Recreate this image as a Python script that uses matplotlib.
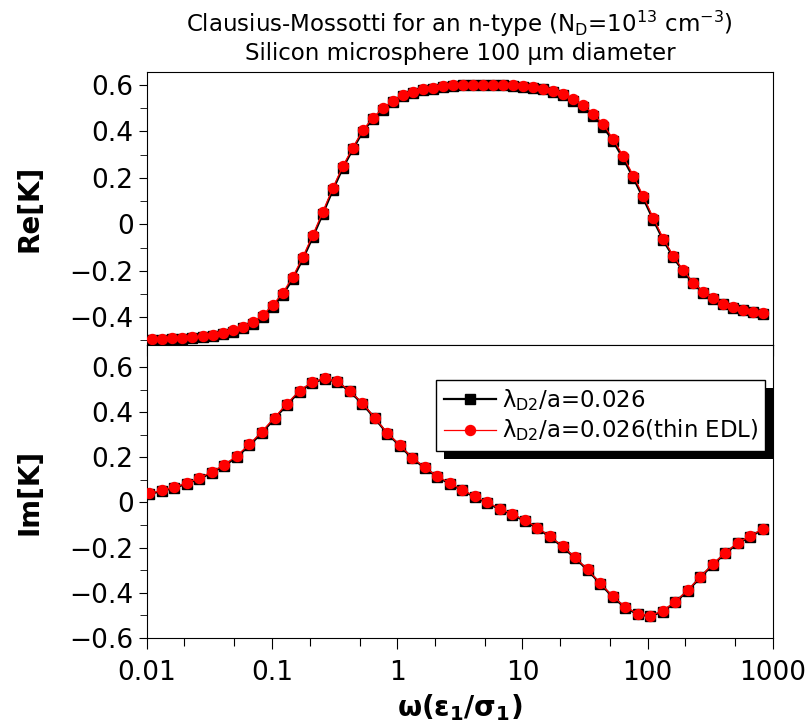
import matplotlib
matplotlib.use("Agg")
import matplotlib.pyplot as plt
from matplotlib.patches import Rectangle
from matplotlib.ticker import FixedLocator, NullFormatter, FuncFormatter

# frequency grid of the Re[K] curves
omega_re = [0.01109, 0.01334, 0.01603, 0.01928, 0.02317, 0.02786, 0.03350, 0.04027, 0.04842, 0.05821,
            0.06998, 0.08414, 0.1012, 0.1216, 0.1462, 0.1758, 0.2113, 0.2541, 0.3055, 0.3673,
            0.4416, 0.5309, 0.6383, 0.7674, 0.9226, 1.109, 1.334, 1.603, 1.928, 2.317,
            2.786, 3.350, 4.027, 4.842, 5.821, 6.998, 8.414, 10.12, 12.16, 14.62,
            17.58, 21.13, 25.41, 30.55, 36.73, 44.16, 53.09, 63.83, 76.74, 92.26,
            110.9, 133.4, 160.3, 192.8, 231.7, 278.6, 335.0, 402.7, 484.2, 582.1,
            699.8, 841.4]

re_full = [-0.498, -0.498, -0.495, -0.493, -0.491, -0.486, -0.480, -0.473, -0.462, -0.447,
           -0.428, -0.398, -0.356, -0.305, -0.236, -0.151, -0.056, 0.044, 0.147, 0.242,
           0.323, 0.399, 0.454, 0.494, 0.529, 0.552, 0.567, 0.578, 0.585, 0.592,
           0.596, 0.599, 0.599, 0.599, 0.599, 0.598, 0.596, 0.592, 0.587, 0.581,
           0.569, 0.556, 0.533, 0.506, 0.468, 0.421, 0.357, 0.283, 0.201, 0.112,
           0.019, -0.069, -0.142, -0.204, -0.255, -0.294, -0.322, -0.345, -0.359, -0.371,
           -0.379, -0.385]

re_thin = [-0.494, -0.494, -0.491, -0.489, -0.487, -0.482, -0.476, -0.468, -0.457, -0.442,
           -0.422, -0.391, -0.348, -0.296, -0.227, -0.142, -0.047, 0.053, 0.156, 0.250,
           0.330, 0.405, 0.459, 0.499, 0.533, 0.556, 0.571, 0.582, 0.588, 0.595,
           0.599, 0.602, 0.602, 0.602, 0.602, 0.601, 0.599, 0.595, 0.591, 0.585,
           0.573, 0.561, 0.539, 0.513, 0.476, 0.430, 0.367, 0.293, 0.210, 0.121,
           0.027, -0.062, -0.136, -0.199, -0.251, -0.291, -0.319, -0.342, -0.356, -0.368,
           -0.376, -0.382]

# frequency grid of the Im[K] curves
omega_im = [0.01047, 0.01318, 0.01660, 0.02089, 0.02630, 0.03311, 0.04169, 0.05248, 0.06607, 0.08318,
            0.1047, 0.1318, 0.1660, 0.2089, 0.2630, 0.3311, 0.4169, 0.5248, 0.6607, 0.8318,
            1.047, 1.318, 1.660, 2.089, 2.630, 3.311, 4.169, 5.248, 6.607, 8.318,
            10.47, 13.18, 16.60, 20.89, 26.30, 33.11, 41.69, 52.48, 66.07, 83.18,
            104.7, 131.8, 166.0, 208.9, 263.0, 331.1, 416.9, 524.8, 660.7, 831.8]

im_full = [0.038, 0.050, 0.065, 0.083, 0.105, 0.132, 0.163, 0.202, 0.253, 0.309,
           0.371, 0.433, 0.491, 0.530, 0.547, 0.534, 0.492, 0.438, 0.373, 0.305,
           0.252, 0.195, 0.153, 0.113, 0.083, 0.053, 0.024, -0.003, -0.030, -0.054,
           -0.082, -0.114, -0.153, -0.196, -0.246, -0.299, -0.359, -0.418, -0.465, -0.495,
           -0.504, -0.483, -0.442, -0.391, -0.332, -0.276, -0.225, -0.181, -0.151, -0.119]

im_thin = [0.041, 0.053, 0.068, 0.086, 0.108, 0.136, 0.167, 0.207, 0.258, 0.314,
           0.376, 0.438, 0.495, 0.533, 0.549, 0.536, 0.495, 0.441, 0.376, 0.308,
           0.255, 0.198, 0.156, 0.116, 0.086, 0.056, 0.027, 0.000, -0.027, -0.051,
           -0.079, -0.111, -0.150, -0.193, -0.243, -0.296, -0.356, -0.415, -0.462, -0.492,
           -0.501, -0.480, -0.439, -0.388, -0.329, -0.273, -0.222, -0.178, -0.148, -0.116]

label_full = r"λ$_{\mathrm{D2}}$/a=0.026"
label_thin = r"λ$_{\mathrm{D2}}$/a=0.026(thin EDL)"
x_ticks = [0.01, 0.1, 1, 10, 100, 1000]


def fmt_y(v, pos):
  if abs(v) < 1e-9:
    return "0"
  return "{:.1f}".format(v).replace("-", "\u2212")


def minors(subs):
  out = []
  for d in [0.01, 0.1, 1, 10, 100]:
    for s in subs:
      out.append(d * s)
  return out


fig = plt.figure(figsize=(8.11, 7.26), dpi=100)
gs = fig.add_gridspec(2, 1, height_ratios=[273, 293], hspace=0,
                      left=0.181, right=0.953, top=0.9008, bottom=0.1212)
ax1 = fig.add_subplot(gs[0])
ax2 = fig.add_subplot(gs[1], sharex=ax1)

ax1.plot(omega_re, re_full, color='black', lw=1.6, marker='s', ms=6.5, zorder=3)
ax1.plot(omega_re, re_thin, color='red', lw=0.9, marker='o', ms=7.2, zorder=4)
ax2.plot(omega_im, im_full, color='black', lw=1.6, marker='s', ms=6.5, zorder=3, label=label_full)
ax2.plot(omega_im, im_thin, color='red', lw=0.9, marker='o', ms=7.2, zorder=4, label=label_thin)

ax1.set_xscale('log')
ax1.set_xlim(0.01, 1000)
ax1.set_ylim(-0.52, 0.656)
ax2.set_ylim(-0.6, 0.697)

# x ticks
ax2.xaxis.set_major_locator(FixedLocator(x_ticks))
ax2.xaxis.set_major_formatter(FuncFormatter(lambda v, p: "{:g}".format(v)))
ax1.xaxis.set_minor_locator(FixedLocator(minors([2, 4, 6, 8])))
ax1.xaxis.set_minor_formatter(NullFormatter())
ax1.tick_params(axis='x', which='both', labelbottom=False)
ax1.tick_params(axis='x', which='major', direction='out', length=8)
ax1.tick_params(axis='x', which='minor', direction='out', length=5)

# bottom panel gets its own minor positions (2 and 5)
ax2b = ax2.secondary_xaxis('bottom')
ax2b.xaxis.set_major_locator(FixedLocator(minors([2, 5])))
ax2b.xaxis.set_major_formatter(NullFormatter())
ax2b.xaxis.set_minor_locator(FixedLocator([]))
ax2b.tick_params(axis='x', which='major', direction='out', length=6)
ax2b.spines['bottom'].set_visible(False)
ax2.tick_params(axis='x', which='minor', length=0)
ax2.tick_params(axis='x', which='major', direction='out', length=8, labelsize=19, pad=8)

# y ticks
for ax in (ax1, ax2):
  ax.yaxis.set_major_formatter(FuncFormatter(fmt_y))
  ax.tick_params(axis='y', which='major', direction='out', length=6, labelsize=19)
  ax.tick_params(axis='y', which='minor', direction='out', length=5)
ax1.yaxis.set_major_locator(FixedLocator([-0.4, -0.2, 0, 0.2, 0.4, 0.6]))
ax1.yaxis.set_minor_locator(FixedLocator([-0.5, -0.3, -0.1, 0.1, 0.3, 0.5]))
ax2.yaxis.set_major_locator(FixedLocator([-0.6, -0.4, -0.2, 0, 0.2, 0.4, 0.6]))
ax2.yaxis.set_minor_locator(FixedLocator([-0.5, -0.3, -0.1, 0.1, 0.3, 0.5]))

ax1.set_ylabel("Re[K]", fontsize=20, fontweight='bold')
ax2.set_ylabel("Im[K]", fontsize=20, fontweight='bold')
ax1.yaxis.set_label_coords(-0.165, 0.5)
ax2.yaxis.set_label_coords(-0.165, 0.5)
ax2.set_xlabel(r"ω(ε$_\mathbf{1}$/σ$_\mathbf{1}$)", fontsize=20, fontweight='bold')

ax1.set_title("Clausius-Mossotti for an n-type (N$_\\mathrm{D}$=10$^{13}$ cm$^{-3}$)\n"
              "Silicon microsphere 100 μm diameter", fontsize=16.5, pad=9, linespacing=1.15)

leg = ax2.legend(loc='upper left', bbox_to_anchor=(0.462, 0.882), fontsize=16.4,
                 numpoints=1, fancybox=False, framealpha=1, edgecolor='black',
                 handlelength=2.3, borderpad=0.33, labelspacing=0.2, handletextpad=0.25,
                 borderaxespad=0)
leg.get_frame().set_linewidth(1.0)

# hard black drop shadow behind the legend box
fig.canvas.draw()
bb = leg.get_frame().get_window_extent()
inv = ax2.transAxes.inverted()
(x0, y0), (x1, y1) = inv.transform([[bb.x0 + 8, bb.y0 - 8], [bb.x1 + 8, bb.y1 - 8]])
ax2.add_patch(Rectangle((x0, y0), x1 - x0, y1 - y0, transform=ax2.transAxes,
                        facecolor='black', edgecolor='none', zorder=4.9, clip_on=False))

plt.savefig("out.png", dpi=100)
